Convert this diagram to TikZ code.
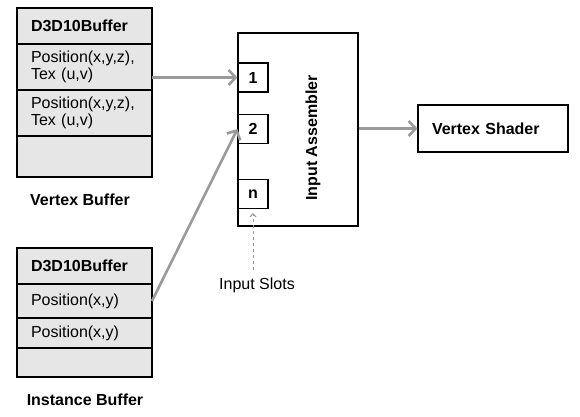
\documentclass[tikz,border=0pt]{standalone}
\usepackage{fontspec}
\setmainfont{Liberation Sans}
\usetikzlibrary{arrows.meta, positioning}
\definecolor{cellgray}{HTML}{E6E6E6}
\definecolor{linkgray}{HTML}{9A9A9A}

\begin{document}
\begin{tikzpicture}[
    x=1pt, y=1pt,
    node distance=0pt,
    font=\fontsize{16}{17}\selectfont,
    cell/.style={rectangle, draw=black, line width=1.2pt, fill=cellgray, minimum width=135pt, text width=107pt, inner xsep=14pt, inner ysep=2pt, align=left, outer sep=0pt},
    hdr/.style={cell, minimum height=36pt, font=\fontsize{16}{17}\selectfont\bfseries},
    slot/.style={rectangle, draw=black, line width=1.2pt, fill=white, minimum width=30pt, minimum height=29pt, inner sep=0pt, font=\fontsize{16}{17}\selectfont\bfseries},
    stage/.style={rectangle, draw=black, line width=1.2pt, fill=white, inner sep=0pt},
    caption/.style={font=\fontsize{16}{17}\selectfont\bfseries},
    link/.style={draw=linkgray, line width=2.6pt, -{Straight Barb[length=7pt, width=15pt]}}
]
\useasboundingbox (0,0) rectangle (580,416);

% Vertex buffer
\node[hdr, anchor=north west] (vhdr) at (17,408) {D3D10Buffer};
\node[cell, minimum height=46pt, below=of vhdr] (vrow1) {Position(x,y,z),\\Tex (u,v)};
\node[cell, minimum height=46pt, below=of vrow1] (vrow2) {Position(x,y,z),\\Tex (u,v)};
\node[cell, minimum height=41pt, below=of vrow2] (vrow3) {};
\node[caption] (vcap) at (80,216) {Vertex Buffer};

% Instance buffer
\node[hdr, anchor=north west] (ihdr) at (17,168) {D3D10Buffer};
\node[cell, minimum height=34pt, below=of ihdr] (irow1) {Position(x,y)};
\node[cell, minimum height=30pt, below=of irow1] (irow2) {Position(x,y)};
\node[cell, minimum height=29pt, below=of irow2] (irow3) {};
\node[caption] (icap) at (85,16) {Instance Buffer};

% Input assembler with slots
\node[stage, minimum width=120pt, minimum height=193pt] (ia) at (298,286.5) {};
\node[caption, rotate=90] (iatxt) at (313,278) {Input Assembler};
\node[slot] (s1) at (253,338.5) {1};
\node[slot] (s2) at (253,287) {2};
\node[slot] (sn) at (253,222) {n};
\node (slotcap) at (257,131) {Input Slots};

% Vertex shader
\node[stage, minimum width=150pt, minimum height=47pt, text width=122pt, inner xsep=14pt, align=left, font=\fontsize{16}{17}\selectfont\bfseries] (vs) at (493,287.5) {Vertex Shader};

\draw[link] (vrow1.east |- s1.west) -- (s1.west);
\draw[link] (irow1.east) -- (s2.west);
\draw[link] (ia.east |- vs.west) -- (vs.west);
\draw[linkgray, line width=1pt, dashed, -{Straight Barb[length=3pt, width=6pt]}] ([yshift=4pt]slotcap.north -| sn.south) -- ([yshift=-4pt]sn.south);

\end{tikzpicture}
\end{document}
